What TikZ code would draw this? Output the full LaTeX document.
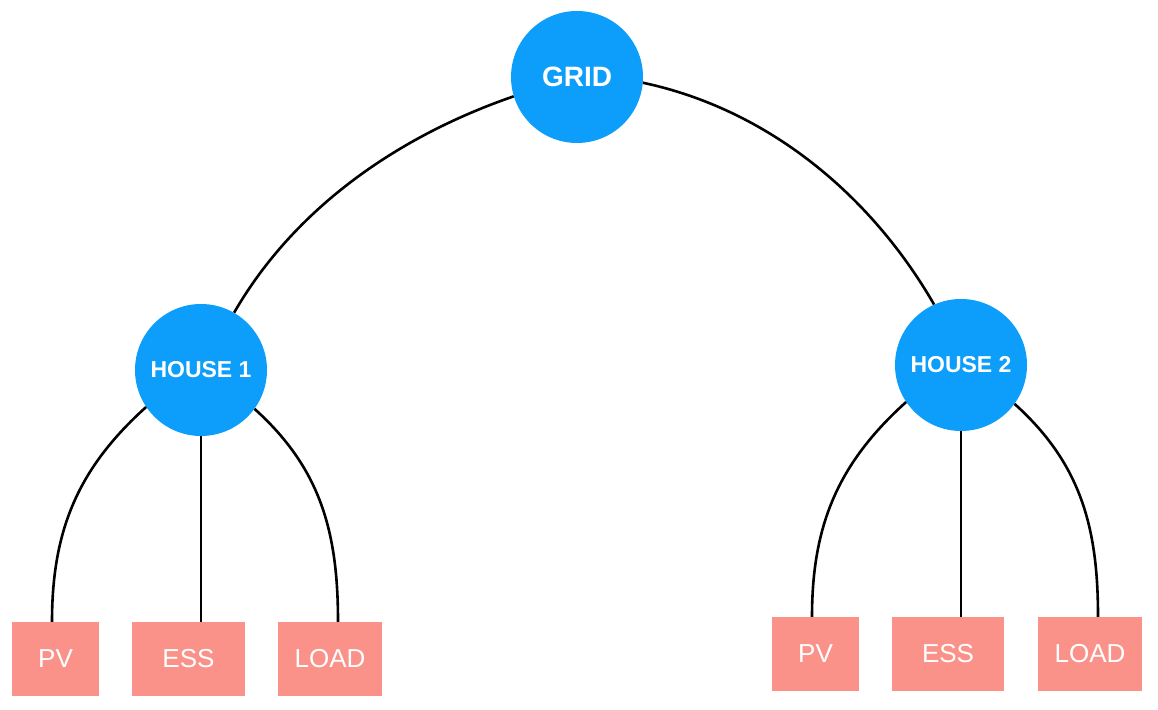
\documentclass[tikz,border=0pt]{standalone}
\usepackage{fontspec}
\setmainfont{Liberation Sans}
\usepackage{tikz}
\usetikzlibrary{topaths}

\definecolor{hubblue}{RGB}{12,158,250}
\definecolor{partred}{RGB}{250,146,138}

\begin{document}
\begin{tikzpicture}[x=1pt, y=1pt,
		hub/.style={circle, fill=hubblue, text=white, minimum size=132pt, inner sep=1pt, font=\bfseries\fontsize{23}{25}\selectfont},
		part/.style={fill=partred, text=white, minimum height=74pt, inner sep=1pt, font=\fontsize{26}{28}\selectfont},
		wire/.style={line width=2.6pt, black}]
		\useasboundingbox (0,0) rectangle (1158,709);
		
		% hubs
		\node[hub, font=\bfseries\fontsize{28}{30}\selectfont] (grid) at (577,632) {GRID};
		\node[hub] (house1) at (201,339) {HOUSE 1};
		\node[hub] (house2) at (961,344) {HOUSE 2};
		
		% parts of house 1
		\node[part, minimum width=87pt] (pv1) at (55.5,50) {PV};
		\node[part, minimum width=113pt] (ess1) at (188.5,50) {ESS};
		\node[part, minimum width=104pt] (load1) at (330,50) {LOAD};
		
		% parts of house 2
		\node[part, minimum width=87pt] (pv2) at (815.5,55) {PV};
		\node[part, minimum width=112pt] (ess2) at (948,55) {ESS};
		\node[part, minimum width=104pt] (load2) at (1090,55) {LOAD};
		
		% connectors
		\draw[wire] (grid.197) to[out=199, in=60, looseness=0.88] (house1.60);
		\draw[wire] (grid.-5) to[out=-12, in=120, looseness=0.89] (house2.114);
		
		\draw[wire] (house1.214) to[out=222, in=90] ([xshift=-3.5pt]pv1.north);
		\draw[wire] (house1.south) -- (house1.south |- ess1.north);
		\draw[wire] (house1.-36) to[out=-42, in=90] ([xshift=8pt]load1.north);
		
		\draw[wire] (house2.214) to[out=222, in=90] ([xshift=-3.5pt]pv2.north);
		\draw[wire] (house2.south) -- (house2.south |- ess2.north);
		\draw[wire] (house2.-36) to[out=-42, in=90] ([xshift=8pt]load2.north);
\end{tikzpicture}
\end{document}
